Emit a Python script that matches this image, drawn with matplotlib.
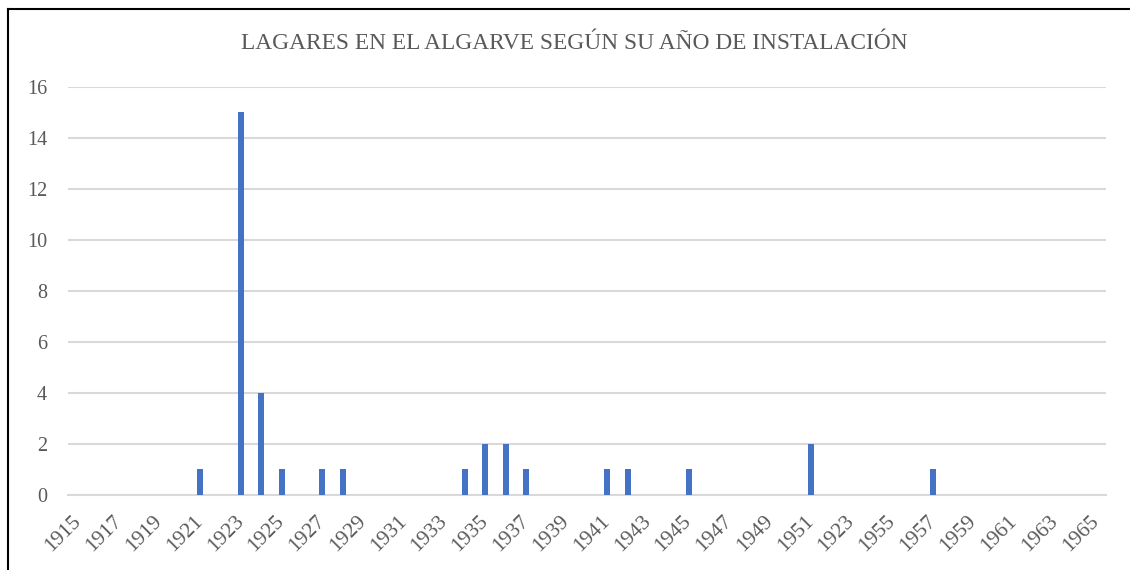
import matplotlib
matplotlib.use('Agg')
import matplotlib.pyplot as plt
import numpy as np

# años de instalación (1915-1965) y número de lagares
years = list(range(1915, 1966))
counts = [0, 0, 0, 0, 0, 0, 1, 0, 15, 4,
          1, 0, 1, 1, 0, 0, 0, 0, 0, 1,
          2, 2, 1, 0, 0, 0, 1, 1, 0, 0,
          1, 0, 0, 0, 0, 0, 2, 0, 0, 0,
          0, 0, 1, 0, 0, 0, 0, 0, 0, 0,
          0]
# etiquetas tal como aparecen (1953 figura como "1923" en el original)
tick_labels = ['1915', '1917', '1919', '1921', '1923', '1925', '1927', '1929',
               '1931', '1933', '1935', '1937', '1939', '1941', '1943', '1945',
               '1947', '1949', '1951', '1923', '1955', '1957', '1959', '1961',
               '1963', '1965']

plt.rcParams['font.family'] = ['Liberation Serif', 'DejaVu Serif']
text_col = '#595959'
grid_col = '#d9d9d9'

fig = plt.figure(figsize=(11.3, 5.7), dpi=100)
ax = fig.add_axes([0.0602, 0.1316, 0.9186, 0.7158])

x = np.arange(len(years))
ax.bar(x, counts, width=0.3, color='#4472c4', zorder=3)

ax.set_xlim(-0.5, len(years) - 0.5)
ax.set_ylim(0, 16)
ax.set_yticks(range(0, 17, 2))
ax.set_xticks(x[::2])
ax.set_xticklabels(tick_labels, rotation=45, ha='right', va='center',
                   rotation_mode='anchor', color=text_col, fontsize=15.5)
ax.tick_params(axis='y', labelsize=14.5, labelcolor=text_col, length=0, pad=15)
ax.tick_params(axis='x', length=0, pad=17)

ax.grid(axis='y', color=grid_col, linewidth=1.5, zorder=0)
for s in ['top', 'right', 'left']:
    ax.spines[s].set_visible(False)
ax.spines['bottom'].set_color(grid_col)
ax.spines['bottom'].set_linewidth(1.5)

fig.text(0.508, 0.923, 'LAGARES EN EL ALGARVE SEGÚN SU AÑO DE INSTALACIÓN',
         ha='center', va='center', fontsize=16.8, color=text_col)

# marco del gráfico (sólo visible arriba e izquierda)
fig.add_artist(plt.Line2D([8 / 1130, 1], [1 - 9 / 570, 1 - 9 / 570],
                          transform=fig.transFigure, color='black', linewidth=1.5))
fig.add_artist(plt.Line2D([8 / 1130, 8 / 1130], [0, 1 - 9 / 570],
                          transform=fig.transFigure, color='black', linewidth=1.5))

fig.savefig('out.png', dpi=100, facecolor='white')
